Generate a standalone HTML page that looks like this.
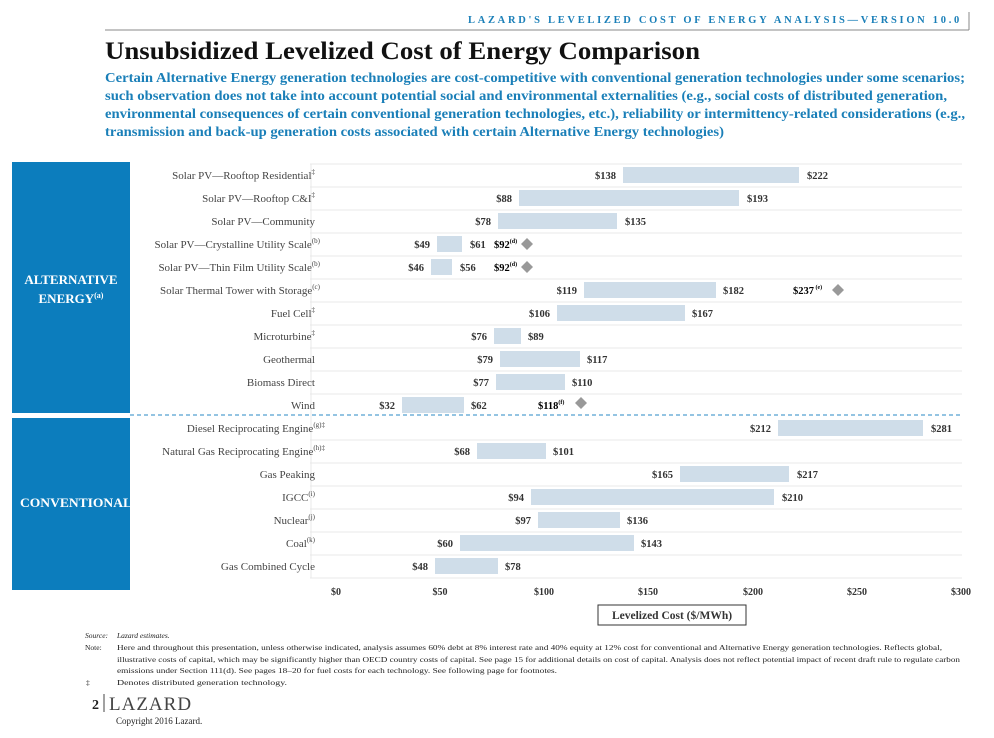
<!DOCTYPE html>
<html><head><meta charset="utf-8"><style>
body{margin:0;background:#fff;width:994px;height:733px;overflow:hidden;font-family:"Liberation Serif",serif;}
</style></head><body>
<svg width="994" height="733" xmlns="http://www.w3.org/2000/svg" font-family="Liberation Serif, serif">
<text x="468" y="23" textLength="494" lengthAdjust="spacingAndGlyphs" font-size="10" font-weight="bold" fill="#1a7fb8" letter-spacing="2.6">LAZARD'S LEVELIZED COST OF ENERGY ANALYSIS—VERSION 10.0</text>
<line x1="969" y1="12" x2="969" y2="30" stroke="#888"/>
<line x1="105" y1="30" x2="969" y2="30" stroke="#888"/>
<text x="105" y="59" textLength="595" lengthAdjust="spacingAndGlyphs" font-size="25" font-weight="bold" fill="#111">Unsubsidized Levelized Cost of Energy Comparison</text>
<g font-size="13.3" font-weight="bold" fill="#1a7fb8">
<text x="105" y="82" textLength="860" lengthAdjust="spacingAndGlyphs">Certain Alternative Energy generation technologies are cost-competitive with conventional generation technologies under some scenarios;</text>
<text x="105" y="100" textLength="842" lengthAdjust="spacingAndGlyphs">such observation does not take into account potential social and environmental externalities (e.g., social costs of distributed generation,</text>
<text x="105" y="118" textLength="860" lengthAdjust="spacingAndGlyphs">environmental consequences of certain conventional generation technologies, etc.), reliability or intermittency-related considerations (e.g.,</text>
<text x="105" y="136" textLength="619" lengthAdjust="spacingAndGlyphs">transmission and back-up generation costs associated with certain Alternative Energy technologies)</text>
</g>
<rect x="12" y="162" width="118" height="251" fill="#0c7dbd"/>
<rect x="12" y="418" width="118" height="172" fill="#0c7dbd"/>
<text x="71" y="284" text-anchor="middle" font-size="13" font-weight="bold" fill="#fff">ALTERNATIVE</text>
<text x="71" y="303" text-anchor="middle" font-size="13" font-weight="bold" fill="#fff">ENERGY<tspan font-size="8" dy="-5">(a)</tspan></text>
<text x="20" y="507" textLength="112" lengthAdjust="spacingAndGlyphs" font-size="13" font-weight="bold" fill="#fff">CONVENTIONAL</text>
<g stroke="#e8e8e8" stroke-width="1">
<line x1="310" y1="164" x2="962" y2="164"/><line x1="310" y1="187" x2="962" y2="187"/><line x1="310" y1="210" x2="962" y2="210"/><line x1="310" y1="233" x2="962" y2="233"/><line x1="310" y1="256" x2="962" y2="256"/><line x1="310" y1="279" x2="962" y2="279"/><line x1="310" y1="302" x2="962" y2="302"/><line x1="310" y1="325" x2="962" y2="325"/><line x1="310" y1="348" x2="962" y2="348"/><line x1="310" y1="371" x2="962" y2="371"/><line x1="310" y1="394" x2="962" y2="394"/>
<line x1="310" y1="440" x2="962" y2="440"/><line x1="310" y1="463" x2="962" y2="463"/><line x1="310" y1="486" x2="962" y2="486"/><line x1="310" y1="509" x2="962" y2="509"/><line x1="310" y1="532" x2="962" y2="532"/><line x1="310" y1="555" x2="962" y2="555"/><line x1="310" y1="578" x2="962" y2="578"/>
<line x1="311" y1="164" x2="311" y2="578"/>
</g>
<line x1="130" y1="415" x2="962" y2="415" stroke="#2a8ac4" stroke-dasharray="4,3"/>
<g font-size="11" fill="#444" text-anchor="end">
<text x="315" y="179">Solar PV—Rooftop Residential<tspan font-size="7" dy="-5">‡</tspan></text>
<text x="315" y="202">Solar PV—Rooftop C&amp;I<tspan font-size="7" dy="-5">‡</tspan></text>
<text x="315" y="225">Solar PV—Community</text>
<text x="320" y="248">Solar PV—Crystalline Utility Scale<tspan font-size="7" dy="-5">(b)</tspan></text>
<text x="320" y="271">Solar PV—Thin Film Utility Scale<tspan font-size="7" dy="-5">(b)</tspan></text>
<text x="320" y="294">Solar Thermal Tower with Storage<tspan font-size="7" dy="-5">(c)</tspan></text>
<text x="315" y="317">Fuel Cell<tspan font-size="7" dy="-5">‡</tspan></text>
<text x="315" y="340">Microturbine<tspan font-size="7" dy="-5">‡</tspan></text>
<text x="315" y="363">Geothermal</text>
<text x="315" y="386">Biomass Direct</text>
<text x="315" y="409">Wind</text>
<text x="325" y="432">Diesel Reciprocating Engine<tspan font-size="7" dy="-5">(g)‡</tspan></text>
<text x="325" y="455">Natural Gas Reciprocating Engine<tspan font-size="7" dy="-5">(h)‡</tspan></text>
<text x="315" y="478">Gas Peaking</text>
<text x="315" y="501">IGCC<tspan font-size="7" dy="-5">(i)</tspan></text>
<text x="315" y="524">Nuclear<tspan font-size="7" dy="-5">(j)</tspan></text>
<text x="315" y="547">Coal<tspan font-size="7" dy="-5">(k)</tspan></text>
<text x="315" y="570">Gas Combined Cycle</text>
</g>
<g fill="#cfdde9">
<rect x="623" y="167" width="176" height="16"/>
<rect x="519" y="190" width="220" height="16"/>
<rect x="498" y="213" width="119" height="16"/>
<rect x="437" y="236" width="25" height="16"/>
<rect x="431" y="259" width="21" height="16"/>
<rect x="584" y="282" width="132" height="16"/>
<rect x="557" y="305" width="128" height="16"/>
<rect x="494" y="328" width="27" height="16"/>
<rect x="500" y="351" width="80" height="16"/>
<rect x="496" y="374" width="69" height="16"/>
<rect x="402" y="397" width="62" height="16"/>
<rect x="778" y="420" width="145" height="16"/>
<rect x="477" y="443" width="69" height="16"/>
<rect x="680" y="466" width="109" height="16"/>
<rect x="531" y="489" width="243" height="16"/>
<rect x="538" y="512" width="82" height="16"/>
<rect x="460" y="535" width="174" height="16"/>
<rect x="435" y="558" width="63" height="16"/>
</g>
<g font-size="10.5" font-weight="bold" fill="#333">
<g text-anchor="end">
<text x="616" y="179">$138</text><text x="512" y="202">$88</text><text x="491" y="225">$78</text><text x="430" y="248">$49</text><text x="424" y="271">$46</text><text x="577" y="294">$119</text><text x="550" y="317">$106</text><text x="487" y="340">$76</text><text x="493" y="363">$79</text><text x="489" y="386">$77</text><text x="395" y="409">$32</text><text x="771" y="432">$212</text><text x="470" y="455">$68</text><text x="673" y="478">$165</text><text x="524" y="501">$94</text><text x="531" y="524">$97</text><text x="453" y="547">$60</text><text x="428" y="570">$48</text>
</g>
<text x="807" y="179">$222</text><text x="747" y="202">$193</text><text x="625" y="225">$135</text><text x="470" y="248">$61</text><text x="460" y="271">$56</text><text x="723" y="294">$182</text><text x="692" y="317">$167</text><text x="528" y="340">$89</text><text x="587" y="363">$117</text><text x="572" y="386">$110</text><text x="471" y="409">$62</text><text x="931" y="432">$281</text><text x="553" y="455">$101</text><text x="797" y="478">$217</text><text x="782" y="501">$210</text><text x="627" y="524">$136</text><text x="641" y="547">$143</text><text x="505" y="570">$78</text>
<g fill="#000">
<text x="494" y="248">$92<tspan font-size="6" dy="-5">(d)</tspan></text>
<text x="494" y="271">$92<tspan font-size="6" dy="-5">(d)</tspan></text>
<text x="793" y="294">$237<tspan font-size="6" dy="-5"> (e)</tspan></text>
<text x="538" y="409">$118<tspan font-size="6" dy="-5">(f)</tspan></text>
</g>
</g>
<g fill="#999">
<path d="M527 238l6 6-6 6-6-6z"/><path d="M527 261l6 6-6 6-6-6z"/><path d="M838 284l6 6-6 6-6-6z"/><path d="M581 397l6 6-6 6-6-6z"/>
</g>
<g font-size="10" font-weight="bold" fill="#333" text-anchor="middle">
<text x="336" y="595">$0</text><text x="440" y="595">$50</text><text x="544" y="595">$100</text><text x="648" y="595">$150</text><text x="753" y="595">$200</text><text x="857" y="595">$250</text><text x="961" y="595">$300</text>
</g>
<rect x="598" y="605" width="148" height="20" fill="#fff" stroke="#333"/>
<text x="672" y="619" text-anchor="middle" font-size="11.5" font-weight="bold" fill="#333">Levelized Cost ($/MWh)</text>
<g font-size="7.5" fill="#222">
<text x="85" y="638" font-style="italic">Source:</text><text x="117" y="638" font-style="italic">Lazard estimates.</text>
<text x="85" y="650">Note:</text>
<text x="117" y="650" textLength="825" lengthAdjust="spacingAndGlyphs">Here and throughout this presentation, unless otherwise indicated, analysis assumes 60% debt at 8% interest rate and 40% equity at 12% cost for conventional and Alternative Energy generation technologies. Reflects global,</text>
<text x="117" y="662" textLength="843" lengthAdjust="spacingAndGlyphs">illustrative costs of capital, which may be significantly higher than OECD country costs of capital. See page 15 for additional details on cost of capital. Analysis does not reflect potential impact of recent draft rule to regulate carbon</text>
<text x="117" y="673" textLength="440" lengthAdjust="spacingAndGlyphs">emissions under Section 111(d). See pages 18–20 for fuel costs for each technology. See following page for footnotes.</text>
<text x="86" y="685">‡</text><text x="117" y="685" textLength="170" lengthAdjust="spacingAndGlyphs">Denotes distributed generation technology.</text>
</g>
<text x="92" y="709" font-size="14" font-weight="bold" fill="#222">2</text>
<line x1="104" y1="694" x2="104" y2="712" stroke="#444"/>
<text x="109" y="710" font-size="19" fill="#444" letter-spacing="1">LAZARD</text>
<text x="116" y="724" font-size="9" fill="#222">Copyright 2016 Lazard.</text>
</svg>
</body></html>
